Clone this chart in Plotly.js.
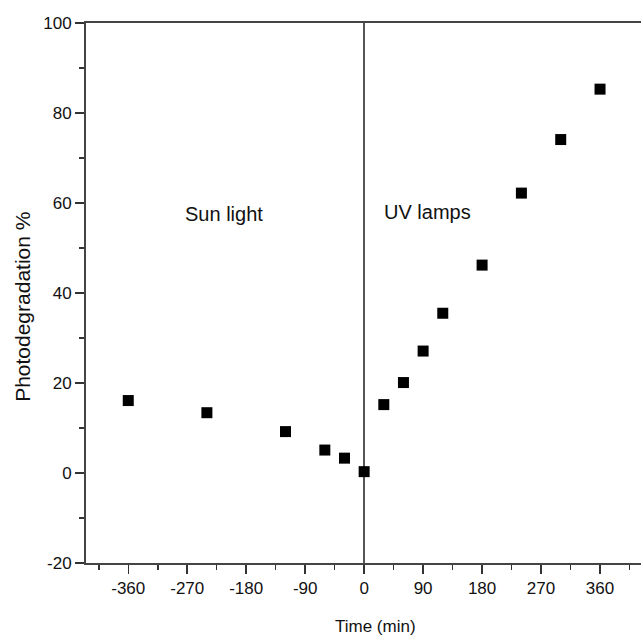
<!DOCTYPE html>
<html>
<head>
<meta charset="utf-8">
<script src="https://cdn.plot.ly/plotly-3.0.1.min.js"></script>
<style>
html, body { margin: 0; padding: 0; overflow: hidden; background: #fff; width: 641px; height: 639px; }
#chart { width: 660px; height: 639px; }
</style>
</head>
<body>
<div id="chart"></div>
<script>
// Data
const timeMin = [-360, -240, -120, -60, -30, 0, 30, 60, 90, 120, 180, 240, 300, 360];
const photodegradation = [16.1, 13.4, 9.2, 5.1, 3.3, 0.3, 15.2, 20.1, 27.1, 35.5, 46.2, 62.2, 74.1, 85.3];
const xTickVals = [-360, -270, -180, -90, 0, 90, 180, 270, 360];
const xTickText = ['-360', '-270', '-180', '-90', '0', '90', '180', '270', '360'];
const yTickVals = [-20, 0, 20, 40, 60, 80, 100];
const yTickText = ['-20', '0', '20', '40', '60', '80', '100'];
const regionLabels = ['Sun light', 'UV lamps'];
const regionLabelX = [-214, 97];
const regionLabelY = [57.5, 58];
const xTitle = 'Time (min)';
const yTitle = 'Photodegradation %';

const font = 'Liberation Sans, Arial, sans-serif';

const trace = {
  x: timeMin,
  y: photodegradation,
  type: 'scatter',
  mode: 'markers',
  marker: { symbol: 'square', size: 11, color: '#000' },
  showlegend: false,
  hoverinfo: 'x+y'
};

const axisCommon = {
  showgrid: false,
  showline: true,
  linecolor: '#444',
  linewidth: 2,
  mirror: true,
  ticks: 'outside',
  ticklen: 9,
  tickwidth: 1.5,
  tickcolor: '#333',
  tickfont: { family: font, size: 17, color: '#111' }
};

const annotations = regionLabels.map((t, i) => ({
  x: regionLabelX[i], y: regionLabelY[i], xref: 'x', yref: 'y',
  text: t, showarrow: false,
  font: { family: font, size: 20, color: '#111' }
}));
// axis titles, placed as in the reference
annotations.push({
  x: 0.505, y: -0.117, xref: 'paper', yref: 'paper',
  xanchor: 'center', yanchor: 'middle',
  text: xTitle, showarrow: false,
  font: { family: font, size: 17, color: '#111' }
});
annotations.push({
  x: -0.112, y: 0.474, xref: 'paper', yref: 'paper',
  xanchor: 'center', yanchor: 'middle', textangle: -90,
  text: yTitle, showarrow: false,
  font: { family: font, size: 21, color: '#111' }
});

const layout = {
  width: 660,
  height: 639,
  margin: { l: 86, r: 1, t: 23, b: 76 },
  paper_bgcolor: '#fff',
  plot_bgcolor: '#fff',
  xaxis: Object.assign({}, axisCommon, {
    range: [-424.5, 450],
    tickmode: 'array',
    tickvals: xTickVals,
    ticktext: xTickText,
    minor: { dtick: 45, tick0: 0, ticks: 'outside', ticklen: 5, tickwidth: 1.5, tickcolor: '#333', showgrid: false },
    zeroline: true,
    zerolinecolor: '#555',
    zerolinewidth: 1.5
  }),
  yaxis: Object.assign({}, axisCommon, {
    range: [-20, 100],
    tickmode: 'array',
    tickvals: yTickVals,
    ticktext: yTickText,
    minor: { dtick: 10, tick0: 0, ticks: 'outside', ticklen: 5, tickwidth: 1.5, tickcolor: '#333', showgrid: false },
    zeroline: false
  }),
  annotations: annotations
};

Plotly.newPlot('chart', [trace], layout, { displayModeBar: false, staticPlot: true });
</script>
</body>
</html>
